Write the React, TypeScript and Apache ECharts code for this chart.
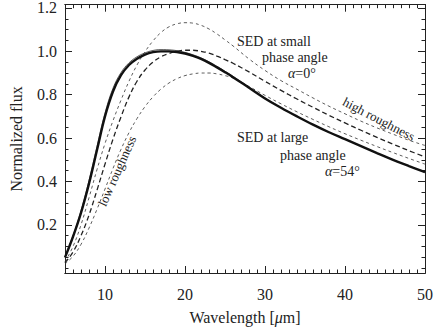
import React, { useEffect, useRef } from "react";
import * as echarts from "echarts";

const wavelengths = [5, 6, 7, 8, 9, 10, 11, 12, 13, 14, 15, 16, 17, 18, 19, 20, 21, 22, 23, 24, 25, 26, 28, 30, 32, 34, 36, 38, 40, 42, 44, 46, 48, 50];

// SED at large phase angle (alpha = 54 deg), thick solid
const sedLarge = [0.05, 0.145, 0.255, 0.39, 0.545, 0.7, 0.815, 0.89, 0.937, 0.966, 0.985, 0.996, 1.0, 1.0, 0.997, 0.99, 0.979, 0.965, 0.947, 0.926, 0.904, 0.881, 0.832, 0.783, 0.74, 0.7, 0.662, 0.627, 0.595, 0.563, 0.531, 0.5, 0.471, 0.443];
// companion thin solid curve (alpha = 54 deg)
const sedLargeAlt = [0.05, 0.15, 0.265, 0.405, 0.562, 0.715, 0.83, 0.902, 0.947, 0.975, 0.993, 1.004, 1.008, 1.007, 1.003, 0.995, 0.984, 0.97, 0.952, 0.931, 0.908, 0.885, 0.835, 0.785, 0.741, 0.7, 0.662, 0.627, 0.595, 0.563, 0.531, 0.5, 0.471, 0.443];
// SED at small phase angle (alpha = 0 deg), three roughness levels
const sedSmallHigh = [0.03, 0.1, 0.2, 0.325, 0.455, 0.575, 0.68, 0.775, 0.862, 0.937, 0.998, 1.048, 1.087, 1.113, 1.127, 1.132, 1.13, 1.12, 1.103, 1.08, 1.053, 1.025, 0.965, 0.912, 0.865, 0.825, 0.785, 0.747, 0.712, 0.678, 0.647, 0.618, 0.59, 0.566];
const sedSmallMid = [0.025, 0.075, 0.15, 0.245, 0.36, 0.48, 0.595, 0.698, 0.79, 0.862, 0.914, 0.95, 0.975, 0.99, 1.0, 1.005, 1.005, 1.0, 0.992, 0.978, 0.962, 0.945, 0.905, 0.862, 0.82, 0.78, 0.742, 0.705, 0.67, 0.636, 0.603, 0.572, 0.542, 0.513];
const sedSmallLow = [0.02, 0.055, 0.11, 0.185, 0.272, 0.365, 0.46, 0.548, 0.625, 0.69, 0.745, 0.79, 0.826, 0.854, 0.874, 0.888, 0.896, 0.9, 0.9, 0.896, 0.888, 0.877, 0.838, 0.797, 0.758, 0.721, 0.686, 0.652, 0.62, 0.59, 0.561, 0.533, 0.506, 0.48];

const xMajorTicks = [10, 20, 30, 40, 50];
const xMinorTicks = Array.from({ length: 46 }, (_, i) => 5 + i);
const yMajorTicks = [0.2, 0.4, 0.6, 0.8, 1.0, 1.2];
const yMinorTicks = Array.from({ length: 25 }, (_, i) => Math.round(i * 5) / 100);

const X_MIN = 5, X_MAX = 50, Y_MIN = -0.022, Y_MAX = 1.215;
const SERIF = '"Liberation Serif", "DejaVu Serif", serif';
const INK = "#222";

function xAx(position: string, ticks: number[], len: number, labels: boolean, name?: string) {
  return {
    type: "value", min: X_MIN, max: X_MAX, position,
    axisLine: { show: true, onZero: false, lineStyle: { color: INK, width: 1 } },
    axisTick: { show: true, inside: true, length: len, customValues: ticks, lineStyle: { color: INK, width: 1 } },
    axisLabel: labels
      ? { show: true, customValues: xMajorTicks, margin: 13, color: INK, fontSize: 16, fontFamily: SERIF, formatter: (v: number) => String(v) }
      : { show: false },
    splitLine: { show: false },
    name: name || "",
    nameLocation: "middle",
    nameGap: 36,
    nameTextStyle: { color: INK, fontSize: 16, fontFamily: SERIF, rich: { i: { fontStyle: "italic", fontSize: 16, fontFamily: SERIF, color: INK } } },
  };
}

function yAx(position: string, ticks: number[], len: number, labels: boolean, name?: string) {
  return {
    type: "value", min: Y_MIN, max: Y_MAX, position,
    axisLine: { show: true, onZero: false, lineStyle: { color: INK, width: 1 } },
    axisTick: { show: true, inside: true, length: len, customValues: ticks, lineStyle: { color: INK, width: 1 } },
    axisLabel: labels
      ? { show: true, customValues: yMajorTicks, margin: 8, color: INK, fontSize: 16, fontFamily: SERIF, formatter: (v: number) => v.toFixed(1) }
      : { show: false },
    splitLine: { show: false },
    name: name || "",
    nameLocation: "middle",
    nameGap: 41,
    nameTextStyle: { color: INK, fontSize: 16, fontFamily: SERIF },
  };
}

function lineSeries(values: number[], width: number, type: any, color: string) {
  return {
    type: "line",
    xAxisIndex: 0,
    yAxisIndex: 0,
    data: wavelengths.map((x, i) => [x, values[i]]),
    showSymbol: false,
    smooth: 0.4,
    lineStyle: { width, type, color },
    silent: true,
  };
}

function label(text: string, x: number, y: number, size = 14, rotation = 0, align = "left") {
  return {
    type: "text", x, y, rotation,
    style: {
      text, fill: INK, fontSize: size, fontFamily: SERIF, align, verticalAlign: "middle",
      rich: { i: { fontStyle: "italic", fontSize: size, fontFamily: SERIF, fill: INK } },
    },
    silent: true,
  };
}

export default function App() {
  const ref = useRef<HTMLDivElement>(null);
  useEffect(() => {
    if (!ref.current) return;
    const chart = echarts.init(ref.current, null, { renderer: "svg" });
    chart.setOption({
      animation: false,
      backgroundColor: "#fff",
      grid: { left: 53.5, top: 4, width: 374.5, height: 273, containLabel: false },
      xAxis: [
        xAx("bottom", xMajorTicks, 7, true, "Wavelength [{i|μ}m]"),
        xAx("bottom", xMinorTicks, 3.5, false),
        xAx("top", xMajorTicks, 7, false),
        xAx("top", xMinorTicks, 3.5, false),
      ],
      yAxis: [
        yAx("left", yMajorTicks, 7, true, "Normalized flux"),
        yAx("left", yMinorTicks, 3.5, false),
        yAx("right", yMajorTicks, 7, false),
        yAx("right", yMinorTicks, 3.5, false),
      ],
      series: [
        lineSeries(sedSmallHigh, 0.8, [3, 3], "#333"),
        lineSeries(sedSmallMid, 1.3, [5, 3], "#222"),
        lineSeries(sedSmallLow, 0.8, [3, 3], "#333"),
        lineSeries(sedLargeAlt, 0.8, "solid", "#333"),
        lineSeries(sedLarge, 2.4, "solid", "#111"),
      ],
      graphic: [
        label("SED at small", 237, 41),
        label("phase angle", 262, 57),
        label("{i|α}=0°", 288, 73),
        label("SED at large", 237, 137),
        label("phase angle", 280, 155),
        label("{i|α}=54°", 325, 171),
        label("high roughness", 379, 119, 13, -0.48, "center"),
        label("low roughness", 117, 171, 13, 1.15, "center"),
      ],
    });
    return () => chart.dispose();
  }, []);
  return <div ref={ref} style={{ position: "fixed", left: 0, top: 0, width: 436, height: 330 }} />;
}
